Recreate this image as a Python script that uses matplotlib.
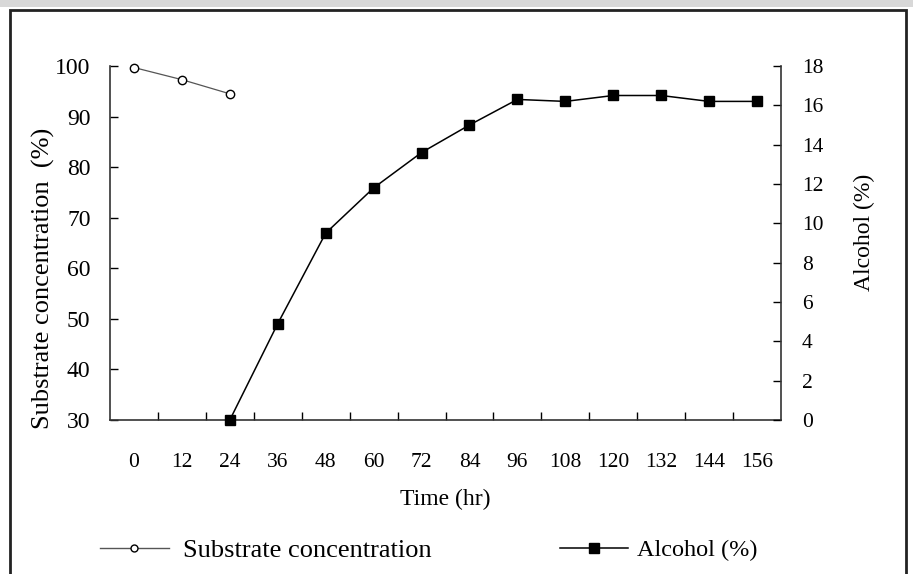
import numpy as np
import matplotlib.pyplot as plt
from matplotlib.patches import Rectangle
from matplotlib.lines import Line2D

# data
hours = [0, 12, 24, 36, 48, 60, 72, 84, 96, 108, 120, 132, 144, 156]
substrate_hours = [0, 12, 24]
substrate = [99.7, 97.3, 94.5]
alcohol_hours = [24, 36, 48, 60, 72, 84, 96, 108, 120, 132, 144, 156]
alcohol = [0.0, 4.9, 9.5, 11.8, 13.6, 15.0, 16.3, 16.2, 16.5, 16.5, 16.2, 16.2]

plt.rcParams['font.family'] = ['Liberation Serif', 'DejaVu Serif']

fig = plt.figure(figsize=(9.13, 5.74), dpi=100)
ax = fig.add_axes([110 / 913, 1 - 420 / 574, 671 / 913, 354 / 574])
ax2 = ax.twinx()

pos = {h: i for i, h in enumerate(hours)}
xs = [pos[h] for h in substrate_hours]
xa = [pos[h] for h in alcohol_hours]

ax.plot(xs, substrate, color='#555555', lw=0.9, marker='o', ms=6,
        mfc='white', mec='black', mew=1.0, clip_on=False, zorder=3)
ax2.plot(xa, alcohol, color='black', lw=1.1, marker='s', ms=7.5,
         mfc='black', mec='black', clip_on=False, zorder=3)

ax.set_xlim(-0.5, len(hours) - 0.5)
ax.set_ylim(30, 100)
ax2.set_ylim(0, 18)
ax.set_yticks(np.arange(30, 101, 10))
ax2.set_yticks(np.arange(0, 19, 2))

ax.set_xticks(range(len(hours)))
ax.set_xticklabels([str(h) for h in hours])
ax.set_xticks(np.arange(0.5, len(hours) - 1, 1), minor=True)
ax.tick_params(axis='x', which='major', length=0, pad=24, labelsize=15.5)
ax.tick_params(axis='x', which='minor', direction='in', length=6, width=1)
ax.tick_params(axis='y', direction='in', length=6, width=1, labelsize=17, pad=14)
ax2.tick_params(axis='y', direction='in', length=6, width=1, labelsize=15.5, pad=15)

for a in (ax, ax2):
    a.spines['top'].set_visible(False)
    for s in ('left', 'right', 'bottom'):
        a.spines[s].set_color('#333333')
        a.spines[s].set_linewidth(1.2)
ax.spines['right'].set_visible(False)
ax2.spines['left'].set_visible(False)
ax2.spines['bottom'].set_visible(False)

ax.set_xlabel('Time (hr)', fontsize=17, labelpad=12)
ax.set_ylabel('Substrate concentration  (%)', fontsize=19)
ax.yaxis.set_label_coords(-0.082, 0.40)
ax2.set_ylabel('Alcohol (%)', fontsize=17)
ax2.yaxis.set_label_coords(1.108, 0.53)

sub_handle = Line2D([], [], color='#555555', lw=1.0, marker='o', ms=5,
                    mfc='white', mec='black')
alc_handle = Line2D([], [], color='black', lw=1.1, marker='s', ms=7, mfc='black')
leg1 = fig.legend([sub_handle], ['Substrate concentration'], loc='center left',
                  bbox_to_anchor=(100 / 913, 1 - 550 / 574), frameon=False,
                  fontsize=19, handlelength=2.6, handletextpad=0.55,
                  borderpad=0, borderaxespad=0)
leg2 = fig.legend([alc_handle], ['Alcohol (%)'], loc='center left',
                  bbox_to_anchor=(560 / 913, 1 - 550 / 574), frameon=False,
                  fontsize=17.5, handlelength=2.8, handletextpad=0.35,
                  borderpad=0, borderaxespad=0)

# grey strip and dark frame around the figure, as in the scanned original
fig.patches.append(Rectangle((0, 1 - 7 / 574), 1, 7 / 574,
                             transform=fig.transFigure, color='#d8d8d8', lw=0))
fig.patches.append(Rectangle((10 / 913, -0.1), 896 / 913, 1.1 - 10 / 574,
                             transform=fig.transFigure, fill=False,
                             edgecolor='#222222', lw=2.0))

fig.savefig('out.png', dpi=100)
